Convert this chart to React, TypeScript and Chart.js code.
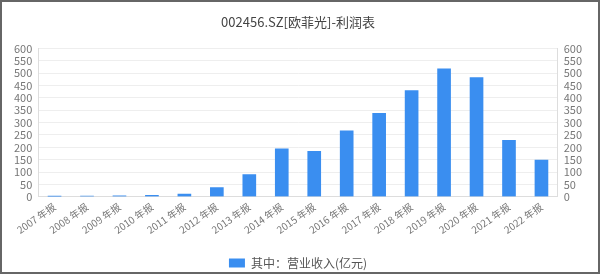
import React, { useEffect, useRef } from "react";
import { Chart, registerables } from "chart.js";

Chart.register(...registerables);

const categories = [
  "2007 年报", "2008 年报", "2009 年报", "2010 年报", "2011 年报", "2012 年报",
  "2013 年报", "2014 年报", "2015 年报", "2016 年报", "2017 年报", "2018 年报",
  "2019 年报", "2020 年报", "2021 年报", "2022 年报",
];
const revenue = [1.2, 2.3, 3.2, 5.6, 10.5, 36.6, 89.2, 194.0, 183.6, 267.2, 337.9, 430.4, 517.9, 482.7, 228.4, 148.1];
const seriesName = "其中：营业收入(亿元)";
const titleText = "002456.SZ[欧菲光]-利润表";

const FONT = "'Noto Sans CJK SC', 'Noto Sans', sans-serif";

export default function App() {
  const ref = useRef<HTMLCanvasElement>(null);
  useEffect(() => {
    if (!ref.current) return;
    const chart = new Chart(ref.current, {
      type: "bar",
      data: {
        labels: categories,
        datasets: [
          {
            label: seriesName,
            data: revenue,
            backgroundColor: "#3a8ef0",
            borderWidth: 0,
            barThickness: 13,
            yAxisID: "y",
          },
        ],
      },
      options: {
        responsive: false,
        animation: false,
        layout: { padding: { left: 6, right: 10, top: 8, bottom: 0 } },
        plugins: {
          title: {
            display: true,
            text: titleText,
            color: "#444",
            font: { family: FONT, size: 13, weight: "normal" },
            padding: { top: 4, bottom: 19 },
          },
          legend: {
            position: "bottom",
            labels: {
              color: "#555",
              font: { family: FONT, size: 12 },
              boxWidth: 16,
              boxHeight: 9,
              padding: 3,
            },
          },
          tooltip: { enabled: false },
        },
        scales: {
          x: {
            grid: { display: false, drawTicks: false },
            border: { color: "#ddd" },
            ticks: {
              color: "#777",
              font: { family: FONT, size: 10 },
              maxRotation: 35,
              minRotation: 35,
              autoSkip: false,
              padding: 4,
            },
            afterFit: (s: any) => {
              s.height = s.height + 14;
            },
          },
          y: {
            position: "left",
            min: 0,
            max: 600,
            grid: { color: "#eeeeee", drawTicks: false },
            border: { color: "#ddd" },
            ticks: {
              stepSize: 50,
              autoSkip: false,
              color: "#777",
              font: { family: FONT, size: 11 },
              padding: 6,
            },
          },
          y1: {
            position: "right",
            min: 0,
            max: 600,
            grid: { display: false, drawTicks: false },
            border: { color: "#ddd" },
            ticks: {
              stepSize: 50,
              autoSkip: false,
              color: "#777",
              font: { family: FONT, size: 11 },
              padding: 6,
            },
          },
        },
      },
    });
    return () => chart.destroy();
  }, []);
  return (
    <div
      style={{
        position: "fixed",
        left: 0,
        top: 0,
        width: 600,
        height: 274,
        boxSizing: "border-box",
        border: "2px solid #666",
        background: "#fff",
        overflow: "hidden",
      }}
    >
      <canvas ref={ref} width={596} height={277} style={{ display: "block" }} />
    </div>
  );
}
